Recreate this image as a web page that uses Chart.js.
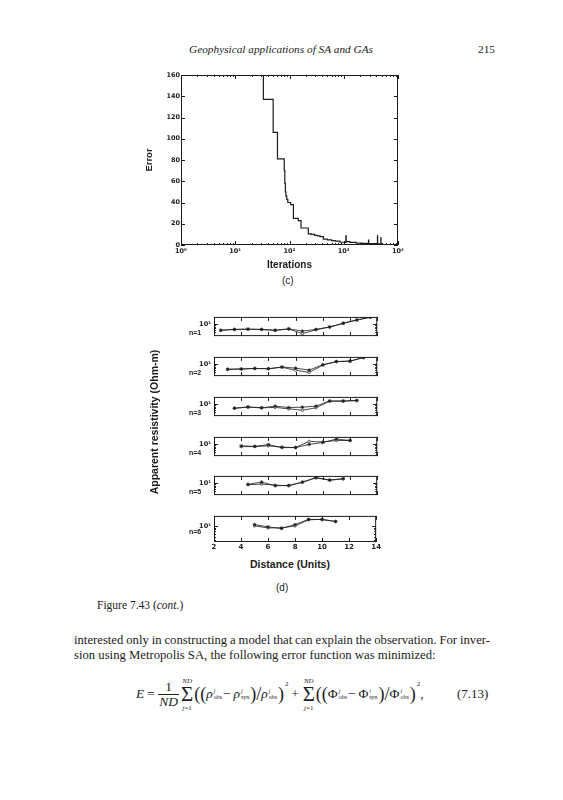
<!DOCTYPE html>
<html>
<head>
<meta charset="utf-8">
<script src="https://cdn.jsdelivr.net/npm/chart.js@4.4.0/dist/chart.umd.min.js"></script>
<style>
body { margin:0; background:#fff; width:563px; height:800px; position:relative; overflow:hidden; font-family:"Liberation Serif", "Times New Roman", serif; color:#1c1c1c; }
.abs { position:absolute; white-space:nowrap; }
canvas { position:absolute; }
.sans { font-family:"Liberation Sans", Arial, sans-serif; font-weight:bold; }
.nlab { font-size:7px; }
#eq { display:flex; align-items:center; font-size:13.5px; }
.frac { display:inline-flex; flex-direction:column; align-items:center; margin:0 1px; line-height:14px; }
.frac .den { border-top:1px solid #1c1c1c; padding:0 1px; }
.sum { display:inline-flex; flex-direction:column; align-items:center; margin:0 1px; }
.sum .sig { font-size:21px; line-height:19px; }
.sum .lim { font-size:7px; line-height:8px; }
.big { font-size:18px; }
.ss { display:inline-flex; flex-direction:column; font-size:6px; line-height:6px; margin:0 1px 0 1px; }
.sq { font-size:7px; position:relative; top:-10px; margin-left:1px; }
</style>
</head>
<body>

<div class="abs" style="left:281px; top:43px; font-size:11.3px; font-style:italic; transform:translateX(-50%);">Geophysical applications of SA and GAs</div>
<div class="abs" style="left:478px; top:43px; font-size:11.3px;">215</div>

<canvas id="errChart" width="270" height="207" style="left:140px; top:65px;"></canvas>
<div class="abs sans" style="left:282px; top:275px; font-size:10px; font-weight:normal;">(c)</div>

<canvas id="p1" width="202" height="33" style="left:180px; top:310px;"></canvas>
<canvas id="p2" width="202" height="33" style="left:180px; top:350px;"></canvas>
<canvas id="p3" width="202" height="33" style="left:180px; top:390px;"></canvas>
<canvas id="p4" width="202" height="33" style="left:180px; top:430px;"></canvas>
<canvas id="p5" width="202" height="33" style="left:180px; top:469px;"></canvas>
<canvas id="p6" width="202" height="45" style="left:180px; top:509px;"></canvas>

<div class="abs sans nlab" style="left:189px; top:329px;">n=1</div>
<div class="abs sans nlab" style="left:189px; top:369px;">n=2</div>
<div class="abs sans nlab" style="left:189px; top:409px;">n=3</div>
<div class="abs sans nlab" style="left:189px; top:449px;">n=4</div>
<div class="abs sans nlab" style="left:189px; top:488px;">n=5</div>
<div class="abs sans nlab" style="left:189px; top:528px;">n=6</div>

<div class="abs sans" style="left:154px; top:422px; font-size:10.5px; transform:translate(-50%,-50%) rotate(-90deg);">Apparent resistivity (Ohm-m)</div>
<div class="abs sans" style="left:290px; top:558px; font-size:10.5px; transform:translateX(-50%);">Distance (Units)</div>
<div class="abs sans" style="left:276px; top:582px; font-size:10px; font-weight:normal;">(d)</div>

<div class="abs" style="left:97px; top:599px; font-size:11.5px;">Figure 7.43 (<i>cont.</i>)</div>

<div id="line1" class="abs" style="left:74px; top:633px; font-size:12.7px;">interested only in constructing a model that can explain the observation. For inver-</div>
<div class="abs" style="left:74px; top:648px; font-size:12.7px;">sion using Metropolis SA, the following error function was minimized:</div>

<div id="eq" class="abs" style="left:136px; top:672px; height:44px;">
  <span><i>E</i>&#8201;=&#8201;</span>
  <span class="frac"><span>1</span><span class="den"><i>ND</i></span></span>
  <span class="sum"><span class="lim"><i>ND</i></span><span class="sig">&Sigma;</span><span class="lim"><i>j</i>=1</span></span>
  <span class="big">((</span><i>&rho;</i><span class="ss"><i>j</i><span>obs</span></span>&minus;&#8201;<i>&rho;</i><span class="ss"><i>j</i><span>syn</span></span><span class="big">)/</span><i>&rho;</i><span class="ss"><i>j</i><span>obs</span></span><span class="big">)</span><span class="sq">2</span>
  <span>&#8201;+&#8201;</span>
  <span class="sum"><span class="lim"><i>ND</i></span><span class="sig">&Sigma;</span><span class="lim"><i>j</i>=1</span></span>
  <span class="big">((</span>&Phi;<span class="ss"><i>j</i><span>obs</span></span>&minus;&#8201;&Phi;<span class="ss"><i>i</i><span>syn</span></span><span class="big">)/</span>&Phi;<span class="ss"><i>i</i><span>obs</span></span><span class="big">)</span><span class="sq">2</span><span>,</span>
</div>
<div class="abs" style="left:457px; top:686px; font-size:13px;">(7.13)</div>

<script>
// (c) error versus iterations
var iterations = [1, 33, 50, 60, 80, 82, 84, 86, 89, 93, 105, 118, 145, 163, 222, 250, 290, 330, 365, 420, 500, 600, 700, 853,
                  1080, 1095, 1110, 1300, 1700, 2200, 2830, 2860, 2890, 3500, 4150, 4180, 4210, 4800, 4830, 4860, 5000];
var errors = [160, 137, 106, 81, 70, 58, 50, 46, 43, 40, 38, 25, 23, 16, 10.5, 10, 9, 8.5, 7.8, 5.5, 4.8, 4.2, 3.6, 2.6,
              2.4, 8.5, 3.1, 2.4, 1.8, 1.6, 1.5, 4.5, 1.4, 1.3, 1.2, 8.5, 1.2, 1.1, 7, 1.1, 1.0];
var errorTicks = [0, 20, 40, 60, 80, 100, 120, 140, 160];

// (d) apparent resistivity pseudosection rows, observed and synthetic
var dist1 = [2.5, 3.5, 4.5, 5.5, 6.5, 7.5, 8.5, 9.5, 10.5, 11.5, 12.5, 13.5];
var obs1 = [5.9, 6.4, 6.6, 6.4, 6.0, 6.7, 5.5, 6.4, 7.9, 11, 14.6, 18.6];
var syn1 = [5.9, 6.3, 6.4, 6.3, 5.8, 6.6, 4.4, 6.2, 7.8, 10.8, 14.4, 18.6];
var dist2 = [3, 4, 5, 6, 7, 8, 9, 10, 11, 12, 13];
var obs2 = [6.45, 6.6, 6.95, 6.8, 7.9, 7.1, 6.0, 9.6, 12.7, 13.2, 18];
var syn2 = [6.45, 6.6, 6.9, 6.7, 7.7, 5.9, 4.9, 9.3, 12.6, 13.1, 18];
var dist3 = [3.5, 4.5, 5.5, 6.5, 7.5, 8.5, 9.5, 10.5, 11.5, 12.5];
var obs3 = [7.1, 7.9, 7.35, 8.5, 7.5, 7.75, 8.5, 13.4, 13.4, 14];
var syn3 = [7.0, 7.8, 7.3, 7.6, 6.7, 5.9, 7.35, 13.0, 13.0, 13.8];
var dist4 = [4, 5, 6, 7, 8, 9, 10, 11, 12];
var obs4 = [8.7, 8.3, 9.7, 7.5, 7.5, 9.9, 11.7, 15.8, 13.9];
var syn4 = [8.1, 8.2, 8.7, 7.75, 7.5, 12.9, 12.2, 13.9, 13.9];
var dist5 = [4.5, 5.5, 6.5, 7.5, 8.5, 9.5, 10.5, 11.5];
var obs5 = [9.1, 11.1, 8.0, 8.3, 11.1, 16.5, 13.3, 15];
var syn5 = [8.8, 9.3, 8.5, 8.0, 10.9, 16, 13.1, 14.6];
var dist6 = [5, 6, 7, 8, 9, 10, 11];
var obs6 = [10.9, 9.4, 8.5, 10.9, 15.3, 15, 13.3];
var syn6 = [10, 8.8, 8.8, 10, 14.8, 15.3, 13.3];
var distTicks = [2, 4, 6, 8, 10, 12, 14];
var resTicks = [4, 5, 6, 7, 8, 9, 10];

var sansFont = "'Liberation Sans', Arial, sans-serif";
var tickFont = "'DejaVu Sans', 'Liberation Sans', sans-serif";
var ink = '#1c1c1c';
var sup = { '0': '\u2070', '1': '\u00b9', '2': '\u00b2', '3': '\u00b3', '4': '\u2074' };

// squeeze the first text line to the right margin (x=490) like the justified page
var line1 = document.getElementById('line1');
var spaces = line1.textContent.split(' ').length - 1;
line1.style.wordSpacing = ((416 - line1.getBoundingClientRect().width) / spaces) + 'px';

function isDecade(v) {
    var l = Math.log10(v);
    return Math.abs(l - Math.round(l)) < 1e-9;
}
function decadeLabel(v) {
    if (!isDecade(v)) return '';
    return '10' + sup[String(Math.round(Math.log10(v)))];
}

/* matlab style box with inward ticks on all four sides */
var boxPlugin = {
    id: 'box',
    afterDraw: function(chart) {
        var a = chart.chartArea, ctx = chart.ctx;
        var xs = chart.scales.x, ys = chart.scales.y;
        ctx.save();
        ctx.strokeStyle = ink;
        ctx.lineWidth = 1;
        ctx.strokeRect(a.left + 0.5, a.top + 0.5, a.right - a.left - 1, a.bottom - a.top - 1);
        ctx.beginPath();
        xs.ticks.forEach(function(t) {
            var px = Math.round(xs.getPixelForValue(t.value)) + 0.5;
            var len = (xs.type == 'logarithmic' && !isDecade(t.value)) ? 2 : 4;
            ctx.moveTo(px, a.bottom); ctx.lineTo(px, a.bottom - len);
            ctx.moveTo(px, a.top); ctx.lineTo(px, a.top + len);
        });
        ys.ticks.forEach(function(t) {
            var py = Math.round(ys.getPixelForValue(t.value)) + 0.5;
            var len = (ys.type == 'logarithmic' && !isDecade(t.value)) ? 2 : 4;
            ctx.moveTo(a.left, py); ctx.lineTo(a.left + len, py);
            ctx.moveTo(a.right, py); ctx.lineTo(a.right - len, py);
        });
        ctx.stroke();
        ctx.restore();
    }
};

function logTicks(lo, hi) {
    var out = [];
    for (var d = lo; d < hi; d *= 10) {
        for (var m = 1; m < 10; m++) out.push({ value: d * m });
    }
    out.push({ value: hi });
    return out;
}

new Chart(document.getElementById('errChart'), {
    type: 'line',
    data: {
        datasets: [{
            data: iterations.map(function(x, i) { return { x: x, y: errors[i] }; }),
            stepped: true,
            borderColor: ink,
            borderWidth: 1.2,
            pointRadius: 0,
            fill: false
        }]
    },
    options: {
        responsive: false,
        animation: false,
        layout: { padding: { top: 10, right: 12, left: 0, bottom: 0 } },
        plugins: { legend: { display: false }, tooltip: { enabled: false } },
        scales: {
            x: {
                type: 'logarithmic', min: 1, max: 10000,
                grid: { display: false, drawTicks: false }, border: { display: false },
                afterBuildTicks: function(s) { s.ticks = logTicks(1, 10000); },
                ticks: { autoSkip: false, maxRotation: 0, padding: 2, color: ink,
                         font: { family: tickFont, size: 6.5, weight: 'bold' },
                         callback: function(v) { return decadeLabel(v); } },
                title: { display: true, text: 'Iterations', color: ink,
                         font: { family: sansFont, size: 10, weight: 'bold' }, padding: { top: 0, bottom: 1 } },
                afterFit: function(s) { s.height = 27; }
            },
            y: {
                min: 0, max: 160,
                grid: { display: false, drawTicks: false }, border: { display: false },
                afterBuildTicks: function(s) { s.ticks = errorTicks.map(function(v) { return { value: v }; }); },
                ticks: { padding: 1, color: ink, font: { family: tickFont, size: 6.5, weight: 'bold' } },
                title: { display: true, text: 'Error', color: ink,
                         font: { family: sansFont, size: 9.5, weight: 'bold' }, padding: { top: 4, bottom: 0 } },
                afterFit: function(s) { s.width = 41; }
            }
        }
    },
    plugins: [boxPlugin]
});

function makePanel(id, dist, obs, syn, showX) {
    new Chart(document.getElementById(id), {
        type: 'line',
        data: {
            datasets: [{
                data: dist.map(function(x, i) { return { x: x, y: obs[i] }; }),
                borderColor: ink, borderWidth: 0.8,
                pointStyle: 'star', pointRadius: 1.8, pointBorderColor: ink, pointBorderWidth: 0.8,
                fill: false
            }, {
                data: dist.map(function(x, i) { return { x: x, y: syn[i] }; }),
                borderColor: ink, borderWidth: 0.8,
                pointStyle: 'circle', pointRadius: 1.2, pointBackgroundColor: '#fff', pointBorderColor: ink, pointBorderWidth: 0.7,
                fill: false
            }]
        },
        options: {
            responsive: false,
            animation: false,
            layout: { padding: { top: 3, right: 4, left: 0, bottom: 0 } },
            plugins: { legend: { display: false }, tooltip: { enabled: false } },
            scales: {
                x: {
                    type: 'linear', min: 2, max: 14,
                    grid: { display: false, drawTicks: false }, border: { display: false },
                    afterBuildTicks: function(s) { s.ticks = distTicks.map(function(v) { return { value: v }; }); },
                    ticks: { display: showX, autoSkip: false, maxRotation: 0, padding: 1, color: ink,
                             font: { family: tickFont, size: 7, weight: 'bold' } },
                    afterFit: function(s) { s.height = showX ? 12 : 0; }
                },
                y: {
                    type: 'logarithmic', min: 3.55, max: 19.05,
                    grid: { display: false, drawTicks: false }, border: { display: false },
                    afterBuildTicks: function(s) { s.ticks = resTicks.map(function(v) { return { value: v }; }); },
                    ticks: { autoSkip: false, padding: 3, color: ink,
                             font: { family: tickFont, size: 6.5, weight: 'bold' },
                             callback: function(v) { return decadeLabel(v); } },
                    afterFit: function(s) { s.width = 34; }
                }
            }
        },
        plugins: [boxPlugin]
    });
}

makePanel('p1', dist1, obs1, syn1, false);
makePanel('p2', dist2, obs2, syn2, false);
makePanel('p3', dist3, obs3, syn3, false);
makePanel('p4', dist4, obs4, syn4, false);
makePanel('p5', dist5, obs5, syn5, false);
makePanel('p6', dist6, obs6, syn6, true);
</script>
</body>
</html>
